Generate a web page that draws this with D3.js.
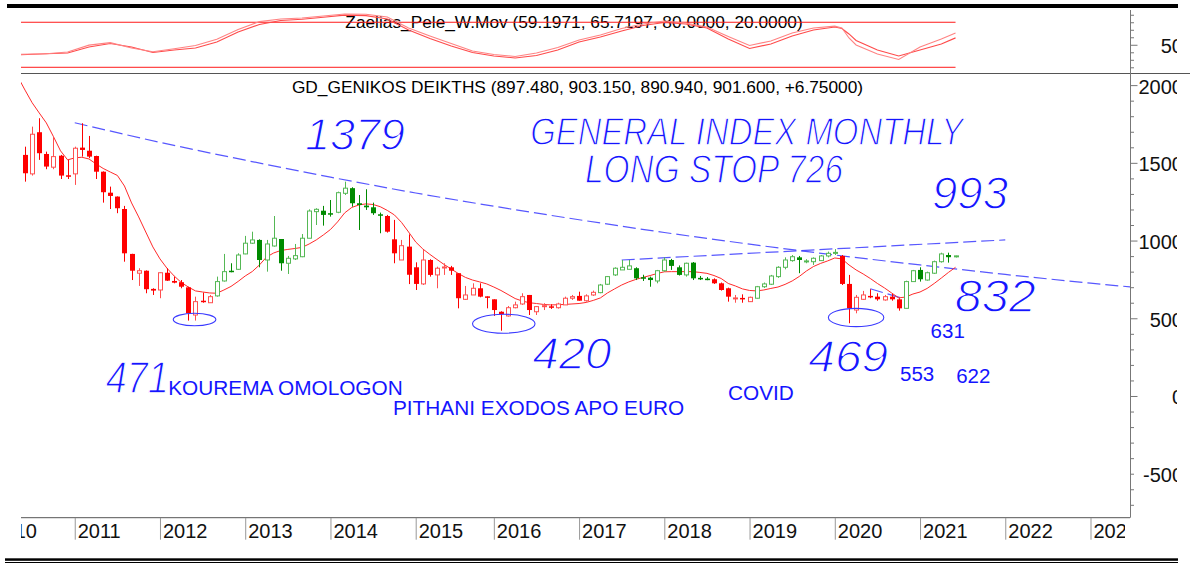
<!DOCTYPE html>
<html>
<head>
<meta charset="utf-8">
<script src="https://cdn.jsdelivr.net/npm/d3@7"></script>
<style>
  body { margin: 0; background: #fff; }
  svg { display: block; font-family: "Liberation Sans", Arial, sans-serif; }
</style>
</head>
<body>
<div id="chart"></div>
<script>
// month axis (athex was shut in july 2015, so no bar for it)
const firstMonth = "2010-01";
const lastMonth = "2023-12";
const closedMonths = ["2015-07"];
const yearLabels = ["2010", "2011", "2012", "2013", "2014", "2015", "2016", "2017", "2018", "2019", "2020", "2021", "2022", "2023"];

// monthly candles, first bar = 2010-06
const candleStart = "2010-06";
const candleOpen = [1551, 1429, 1697, 1557, 1472, 1546, 1420, 1429, 1598, 1578, 1544, 1443, 1308, 1283, 1203, 914, 790, 806, 689, 682, 793, 740, 732, 699, 521, 613, 600, 644, 740, 806, 815, 914, 983, 1004, 875, 965, 1010, 854, 882, 896, 1015, 1186, 1192, 1176, 1182, 1304, 1337, 1240, 1225, 1214, 1169, 1158, 1008, 875, 961, 828, 721, 875, 779, 826, 828, 790, 622, 650, 693, 641, 622, 542, 515, 568, 592, 650, 542, 577, 577, 568, 586, 629, 644, 613, 650, 665, 719, 779, 811, 815, 822, 764, 761, 740, 806, 875, 828, 779, 858, 760, 755, 751, 725, 693, 627, 631, 607, 629, 703, 719, 768, 828, 871, 892, 866, 864, 871, 901, 920, 901, 721, 553, 622, 644, 639, 618, 639, 622, 564, 736, 811, 746, 790, 864, 907, 897.48];
const candleHigh = [1604, 1733, 1787, 1572, 1669, 1551, 1519, 1604, 1755, 1673, 1546, 1445, 1347, 1284, 1223, 915, 822, 808, 693, 795, 822, 768, 746, 703, 639, 665, 650, 768, 914, 854, 918, 1030, 1057, 1008, 1004, 1158, 1010, 901, 978, 1042, 1201, 1208, 1223, 1261, 1315, 1379, 1343, 1293, 1330, 1244, 1180, 1165, 1133, 1004, 1040, 860, 940, 880, 832, 854, 837, 790, 708, 725, 725, 641, 622, 545, 579, 607, 661, 650, 579, 597, 590, 600, 639, 650, 671, 654, 678, 721, 772, 828, 875, 875, 828, 780, 768, 811, 892, 882, 840, 858, 862, 772, 765, 757, 730, 697, 650, 654, 639, 708, 730, 779, 835, 892, 907, 901, 880, 892, 907, 929, 945, 907, 779, 650, 676, 687, 661, 650, 656, 629, 742, 811, 828, 800, 871, 922, 922, 903.15];
const candleLow = [1379, 1418, 1519, 1459, 1459, 1396, 1396, 1358, 1540, 1530, 1396, 1244, 1203, 1176, 864, 746, 708, 661, 650, 629, 740, 725, 693, 485, 485, 600, 600, 639, 736, 796, 811, 912, 978, 828, 800, 961, 806, 785, 875, 893, 1015, 1100, 1096, 1154, 1176, 1293, 1218, 1068, 1197, 1165, 1047, 1051, 854, 875, 720, 682, 714, 768, 693, 779, 779, 564, 618, 650, 635, 564, 515, 420, 511, 564, 586, 521, 521, 553, 560, 562, 586, 618, 613, 607, 644, 661, 714, 772, 811, 815, 746, 740, 703, 725, 800, 811, 775, 768, 746, 746, 745, 721, 678, 607, 600, 600, 605, 627, 695, 714, 760, 815, 864, 790, 854, 843, 869, 892, 907, 714, 468, 532, 618, 629, 613, 613, 613, 549, 564, 736, 736, 742, 785, 858, 858, 890.94];
const candleClose = [1433, 1684, 1562, 1476, 1540, 1418, 1413, 1594, 1583, 1540, 1443, 1311, 1287, 1208, 918, 806, 806, 687, 678, 793, 742, 729, 703, 532, 607, 607, 639, 736, 800, 798, 907, 983, 1004, 875, 978, 1015, 854, 886, 903, 1015, 1190, 1201, 1165, 1169, 1308, 1337, 1240, 1229, 1214, 1176, 1165, 1057, 918, 967, 780, 721, 875, 779, 822, 830, 806, 629, 650, 693, 639, 635, 553, 526, 568, 586, 639, 553, 575, 581, 573, 592, 629, 639, 613, 644, 667, 714, 768, 822, 828, 837, 757, 761, 746, 806, 875, 837, 779, 854, 757, 755, 752, 725, 682, 639, 631, 629, 635, 703, 721, 772, 828, 875, 896, 875, 869, 886, 901, 918, 924, 721, 564, 635, 650, 635, 622, 639, 622, 564, 736, 806, 751, 793, 864, 914, 893, 901.6];
const candleTone = [
  "R", "R", "R", "R", "R", "R", "R", "R", "R", "R", "R", "R", "R", "R", "R", "R", "R", "R", "R", "R", "R", "R", "R", "R", "R", "R", "R",
  "G", "G", "G", "G", "G", "G", "G", "G", "G", "G", "G", "G", "G", "G", "G", "G", "G", "G", "G", "G", "G", "G", "G", "G",
  "R", "R", "R", "R", "R", "R", "R", "R", "R", "R", "R", "R", "R", "R", "R", "R", "R", "R", "R", "R", "R", "R", "R", "R", "R", "R", "R", "R", "R", "R",
  "G", "G", "G", "G", "G", "G", "G", "G", "G", "G", "G", "G", "G", "G", "G", "G",
  "R", "R", "R", "R", "R", "R",
  "G", "G", "G", "G", "G", "G", "G", "G", "G", "G", "G", "G",
  "R", "R", "R", "R", "R", "R", "R", "R", "R",
  "G", "G", "G", "G", "G", "G", "G", "G"];

// red moving average, one value per month from 2010-05
const maStart = "2010-05";
const maValues = [2053, 1968, 1887, 1821, 1757, 1669, 1577, 1519,
  1532, 1536, 1525, 1493, 1464, 1441, 1419, 1351, 1242, 1152, 1055, 959,
  882, 821, 772, 730, 701, 676, 669, 663, 661, 682, 705, 737,
  772, 801, 843, 894, 920, 936, 943, 949, 956, 978, 1004, 1036,
  1071, 1120, 1178, 1213, 1229, 1236, 1232, 1218, 1194, 1165, 1117, 1055,
  991, 946, 911, 878, 846, 817, 788, 763, 746, 734, 721,
  701, 679, 653, 627, 611, 600, 595, 589, 586, 587, 589, 592,
  595, 602, 615, 631, 663, 689, 714, 734, 750, 763, 775, 788,
  799, 800, 800, 800, 800, 795, 789, 775, 756, 724, 708, 689,
  679, 676, 682, 692, 701, 718, 740, 769, 804, 833, 853, 869,
  888, 882, 843, 811, 785, 756, 724, 695, 663, 631, 637, 656,
  669, 692, 724, 759, 795, 828];

// Zaelias_Pele_W.Mov panel
const oscMonths = ["2010-05", "2010-09", "2010-12", "2011-03", "2011-06", "2011-09", "2011-12", "2012-03", "2012-06", "2012-09", "2012-12",
  "2013-03", "2013-06", "2013-09", "2013-12", "2014-03", "2014-06", "2014-09", "2014-12", "2015-03", "2015-06", "2015-10",
  "2016-01", "2016-04", "2016-07", "2016-10", "2017-01", "2017-04", "2017-07", "2017-10", "2018-01", "2018-04", "2018-07", "2018-10",
  "2019-01", "2019-04", "2019-07", "2019-10", "2020-01", "2020-02", "2020-03", "2020-04", "2020-07", "2020-10", "2021-01", "2021-04", "2021-06"];
const oscSlow = [36.5, 38, 39.1, 47.1, 51.7, 47.1, 39.7, 43.1, 45.7, 53.7, 67.1, 77.1, 82.4, 84, 86.7, 89.5, 88.8, 84.4, 69.7, 58.4, 48.4, 39.7,
  35.1, 32.4, 35.7, 43.1, 53.7, 60.4, 68.4, 75.7, 79.7, 77.7, 72.4, 57.7, 45.1, 51.1, 61.7, 69.7, 73.7, 71.7, 64.4, 55.7, 43.1, 35.1, 43.1, 51.1, 59.2];
const oscFast = [37.3, 38, 40.4, 49.5, 52.9, 45.7, 40.8, 44.7, 49.1, 57.3, 70.4, 80.9, 84.3, 85.7, 88.3, 91.1, 90.7, 87.1, 72.4, 61.7, 51.7, 41.7,
  37.1, 34.4, 39.1, 46.4, 56.4, 63.1, 71.7, 77.7, 81.7, 79.1, 73.7, 61.1, 49.1, 55.1, 65.7, 72.4, 74.8, 72.4, 59.1, 49.7, 37.7, 30.4, 47.1, 57.7, 65.7];
const oscBands = [80, 20];
const oscTitle = "Zaelias_Pele_W.Mov (59.1971, 65.7197, 80.0000, 20.0000)";
const mainTitle = "GD_GENIKOS DEIKTHS (897.480, 903.150, 890.940, 901.600, +6.75000)";

const mainTickLabels = [2000, 1500, 1000, 500, 0, -500];
const oscTickLabels = [50];

// hand drawn trend lines [month, index value]
const trendLong = [["2011-01", 1758], ["2012-01", 1632], ["2013-01", 1517], ["2014-01", 1408], ["2015-01", 1306], ["2016-01", 1221], ["2017-01", 1134],
  ["2018-01", 1052], ["2019-01", 977], ["2020-01", 907], ["2021-01", 843], ["2022-01", 782], ["2023-01", 726], ["2023-12", 679]];
const trendTop = [["2017-07", 875], ["2022-01", 1004]];
const trendShort = [["2020-06", 690], ["2020-11", 622]];

// circled lows: centre date, centre value, half width in months, half height in points
const lowRings = [["2012-05-27", 492, 3.0, 40], ["2016-02-13", 465, 4.4, 61], ["2020-04-01", 505, 3.9, 59]];

// notes, anchored at text centre / baseline
const handNotes = [["1379", "2014-04-15", 1583], ["GENERAL INDEX MONTHLY", "2018-12-19", 1615], ["LONG STOP 726", "2018-08-01", 1371],
  ["993", "2021-08-02", 1203], ["832", "2021-11-19", 541], ["420", "2016-12-01", 174], ["469", "2020-02-28", 154], ["471", "2011-09-25", 19]];
const plainNotes = [["KOUREMA OMOLOGON", "2013-06-21", 6], ["PITHANI EXODOS APO EURO", "2016-07-10", -122], ["COVID", "2019-02-19", -26],
  ["631", "2021-04-28", 373], ["553", "2020-12-19", 97], ["622", "2021-08-16", 84]];

// month -> slot number, skipping closed months
const monthList = [];
for (let y = +firstMonth.slice(0, 4), m = +firstMonth.slice(5, 7); ;) {
  const key = y + "-" + String(m).padStart(2, "0");
  if (!closedMonths.includes(key)) monthList.push(key);
  if (key === lastMonth) break;
  m++;
  if (m > 12) { m = 1; y++; }
}
const monthPos = new Map(monthList.map((k, i) => [k, i]));
function monthIndex(s) {
  const idx = monthPos.get(s.slice(0, 7));
  return s.length > 7 ? idx + (+s.slice(8, 10) - 1) / 30 : idx;
}

class GeneralIndexChart {

  constructor(selector) {
    this.width = 1190;
    this.height = 563;
    this.left = 21;
    this.right = 1130;
    this.oscTop = 8;
    this.mainTop = 73;
    this.mainBottom = 517.7;
    this.blue = "#1414ff";
    this.svg = d3.select(selector).append("svg")
      .attr("width", this.width)
      .attr("height", this.height);
    this.x = d3.scaleLinear()
      .domain([monthIndex("2010-01"), monthIndex("2023-01")])
      .range([-10.5, 1090.5]);
    this.yMain = d3.scaleLinear().domain([-783, 2078]).range([this.mainBottom, this.mainTop]);
    this.yOsc = d3.scaleLinear().domain([12.4, 99]).range([this.mainTop, this.oscTop]);
  }

  draw() {
    this.makeClips();
    this.drawFrame();
    this.drawOscillator();
    this.drawTrendLines();
    this.drawAverage();
    this.drawCandles();
    this.drawRings();
    this.drawAxes();
    this.drawNotes();
  }

  makeClips() {
    const defs = this.svg.append("defs");
    const clip = (id, x0, y0, x1, y1) => defs.append("clipPath").attr("id", id)
      .append("rect").attr("x", x0).attr("y", y0).attr("width", x1 - x0).attr("height", y1 - y0);
    clip("oscClip", this.left, this.oscTop, this.right, this.mainTop);
    clip("mainClip", this.left, this.mainTop, this.right, this.mainBottom);
    // year labels get cut a little before the value axis
    clip("yearClip", this.left, this.mainBottom, 1125, 548);
    clip("valueClip", this.right, 0, 1177, this.mainBottom + 10);
  }

  drawFrame() {
    const s = this.svg;
    s.append("rect").attr("x", 7).attr("y", 4).attr("width", 1171).attr("height", 4).attr("fill", "#000");
    s.append("line").attr("x1", this.left).attr("x2", this.width).attr("y1", this.mainTop + 0.5).attr("y2", this.mainTop + 0.5)
      .attr("stroke", "#555");
    s.append("line").attr("x1", this.left).attr("x2", this.right).attr("y1", this.mainBottom).attr("y2", this.mainBottom)
      .attr("stroke", "#555");
    s.append("rect").attr("x", 5).attr("y", 558.3).attr("width", 1173).attr("height", 2.5).attr("fill", "#000");
    s.append("line").attr("x1", 5).attr("x2", 1178).attr("y1", 562.5).attr("y2", 562.5).attr("stroke", "#000");

    s.append("text").attr("x", 574).attr("y", 28.3).attr("text-anchor", "middle")
      .attr("font-size", 17.3).attr("fill", "#000").text(oscTitle);
    s.append("text").attr("x", 577.5).attr("y", 92.7).attr("text-anchor", "middle")
      .attr("font-size", 17.3).attr("fill", "#000").text(mainTitle);
  }

  drawOscillator() {
    const g = this.svg.append("g").attr("clip-path", "url(#oscClip)");
    const lastCandle = monthList[monthIndex(candleStart) + candleOpen.length - 1];
    const line = d3.line()
      .x(d => this.x(monthIndex(d[0])))
      .y(d => this.yOsc(d[1]));

    oscBands.forEach(b => {
      g.append("path").attr("d", line([[firstMonth, b], [lastCandle, b]]))
        .attr("fill", "none").attr("stroke", "#ff1a1a").attr("stroke-width", 1);
    });
    g.append("path").attr("d", line(oscMonths.map((m, i) => [m, oscSlow[i]])))
      .attr("fill", "none").attr("stroke", "#ff4a4a").attr("stroke-width", 1.1);
    g.append("path").attr("d", line(oscMonths.map((m, i) => [m, oscFast[i]])))
      .attr("fill", "none").attr("stroke", "#ff8383").attr("stroke-width", 1.1);
  }

  drawTrendLines() {
    const g = this.svg.append("g").attr("clip-path", "url(#mainClip)");
    const line = d3.line()
      .curve(d3.curveMonotoneX)
      .x(d => this.x(monthIndex(d[0])))
      .y(d => this.yMain(d[1]));
    [trendLong, trendTop, trendShort].forEach(t => {
      g.append("path").attr("d", line(t))
        .attr("fill", "none")
        .attr("stroke", "#3a3aff")
        .attr("stroke-opacity", 0.85)
        .attr("stroke-width", 1.2)
        .attr("stroke-dasharray", "13,5");
    });
  }

  drawAverage() {
    const g = this.svg.append("g").attr("clip-path", "url(#mainClip)");
    const start = monthIndex(maStart);
    const line = d3.line()
      .x((d, i) => this.x(start + i))
      .y(d => this.yMain(d));
    g.append("path").attr("d", line(maValues))
      .attr("fill", "none").attr("stroke", "#ff2a2a").attr("stroke-width", 1);
  }

  drawCandles() {
    const start = monthIndex(candleStart);
    const candles = candleOpen.map((o, i) => ({
      idx: start + i, o: o, h: candleHigh[i], l: candleLow[i], c: candleClose[i], tone: candleTone[i]
    }));
    const dark = { R: "#ff0000", G: "#008a00" };
    const light = { R: "#ff5050", G: "#55b855" };
    const y = this.yMain;

    const g = this.svg.append("g").attr("clip-path", "url(#mainClip)");
    const c = g.selectAll("g.candle").data(candles).join("g").attr("class", "candle");

    c.append("line")
      .attr("x1", d => Math.round(this.x(d.idx)) + 0.5)
      .attr("x2", d => Math.round(this.x(d.idx)) + 0.5)
      .attr("y1", d => y(d.h))
      .attr("y2", d => y(d.l))
      .attr("stroke", d => d.c >= d.o ? light[d.tone] : dark[d.tone]);

    // hollow body = close above open
    c.filter(d => d.c >= d.o).append("rect")
      .attr("x", d => Math.round(this.x(d.idx)) - 1.5)
      .attr("width", 4)
      .attr("y", d => y(d.c))
      .attr("height", d => Math.max(y(d.o) - y(d.c), 1))
      .attr("fill", "#fff")
      .attr("stroke", d => light[d.tone]);

    c.filter(d => d.c < d.o).append("rect")
      .attr("x", d => Math.round(this.x(d.idx)) - 2)
      .attr("width", 5)
      .attr("y", d => y(d.o))
      .attr("height", d => Math.max(y(d.c) - y(d.o), 1.5))
      .attr("fill", d => dark[d.tone]);
  }

  drawRings() {
    const g = this.svg.append("g").attr("clip-path", "url(#mainClip)");
    g.selectAll("ellipse").data(lowRings).join("ellipse")
      .attr("cx", d => this.x(monthIndex(d[0])))
      .attr("cy", d => this.yMain(d[1]))
      .attr("rx", d => this.x(monthIndex(d[0]) + d[2]) - this.x(monthIndex(d[0])))
      .attr("ry", d => this.yMain(d[1] - d[3]) - this.yMain(d[1]))
      .attr("fill", "none")
      .attr("stroke", "#3a3aff")
      .attr("stroke-width", 1.1);
  }

  drawAxes() {
    // years along the bottom
    const ax = this.svg.append("g")
      .attr("clip-path", "url(#yearClip)")
      .append("g")
      .attr("transform", `translate(0,${this.mainBottom})`)
      .call(d3.axisBottom(this.x)
        .tickValues(yearLabels.map(yr => monthIndex(yr + "-01")))
        .tickSize(22)
        .tickFormat((d, i) => yearLabels[i]));
    ax.select(".domain").remove();
    ax.attr("font-size", 20).attr("font-family", "Liberation Sans, Arial, sans-serif");
    ax.selectAll(".tick line").attr("stroke", "#999");
    ax.selectAll(".tick text")
      .attr("text-anchor", "start")
      .attr("x", 2.5)
      .attr("y", 20.5)
      .attr("dy", null)
      .attr("fill", "#111");

    // value scale on the right
    const ra = this.svg.append("g");
    ra.append("line").attr("x1", this.right + 0.5).attr("x2", this.right + 0.5)
      .attr("y1", this.oscTop + 2).attr("y2", this.mainBottom).attr("stroke", "#777");

    const tickG = ra.append("g").attr("transform", `translate(${this.right + 0.5},0)`);
    tickG.append("g").call(d3.axisRight(this.yMain).tickValues(d3.range(-700, 2001, 100)).tickSize(3.5).tickFormat(""))
      .call(a => a.select(".domain").remove());
    tickG.append("g").call(d3.axisRight(this.yOsc).tickValues(d3.range(20, 91, 10)).tickSize(3.5).tickFormat(""))
      .call(a => a.select(".domain").remove());
    tickG.selectAll(".tick line")
      .attr("stroke", "#777")
      .attr("x2", d => (d % 500 === 0 && d > 100) || d === 0 || d === 50 ? 7 : 3.5);

    const labels = ra.append("g").attr("clip-path", "url(#valueClip)")
      .attr("font-size", 20).attr("fill", "#111").attr("text-anchor", "end");
    labels.selectAll("text.main").data(mainTickLabels).join("text").attr("class", "main")
      .attr("x", 1183).attr("y", d => this.yMain(d)).attr("dy", "0.42em").text(d => d);
    labels.selectAll("text.osc").data(oscTickLabels).join("text").attr("class", "osc")
      .attr("x", 1183).attr("y", d => this.yOsc(d)).attr("dy", "0.42em").text(d => d);
  }

  drawNotes() {
    // handwriting sizes: [font size, ink width]
    const handFit = {
      "1379": [44, 100], "GENERAL INDEX MONTHLY": [39, 433], "LONG STOP 726": [41, 258], "993": [46, 76],
      "832": [46, 81], "420": [44, 79], "469": [44, 80], "471": [44, 63]
    };
    const g = this.svg.append("g");
    g.selectAll("text.hand").data(handNotes).join("text").attr("class", "hand")
      .attr("x", d => this.x(monthIndex(d[1])))
      .attr("y", d => this.yMain(d[2]))
      .attr("text-anchor", "middle")
      .attr("font-style", "italic")
      .attr("font-size", d => handFit[d[0]][0])
      .attr("textLength", d => handFit[d[0]][1])
      .attr("lengthAdjust", "spacingAndGlyphs")
      .attr("fill", this.blue)
      .attr("stroke", "#fff")
      .attr("stroke-width", 1.3)
      .text(d => d[0]);

    g.selectAll("text.plain").data(plainNotes).join("text").attr("class", "plain")
      .attr("x", d => this.x(monthIndex(d[1])))
      .attr("y", d => this.yMain(d[2]))
      .attr("text-anchor", "middle")
      .attr("font-size", d => /^\d+$/.test(d[0]) ? 20.5 : 20.8)
      .attr("fill", this.blue)
      .text(d => d[0]);
  }
}

const chart = new GeneralIndexChart("#chart");
chart.draw();
</script>
</body>
</html>
